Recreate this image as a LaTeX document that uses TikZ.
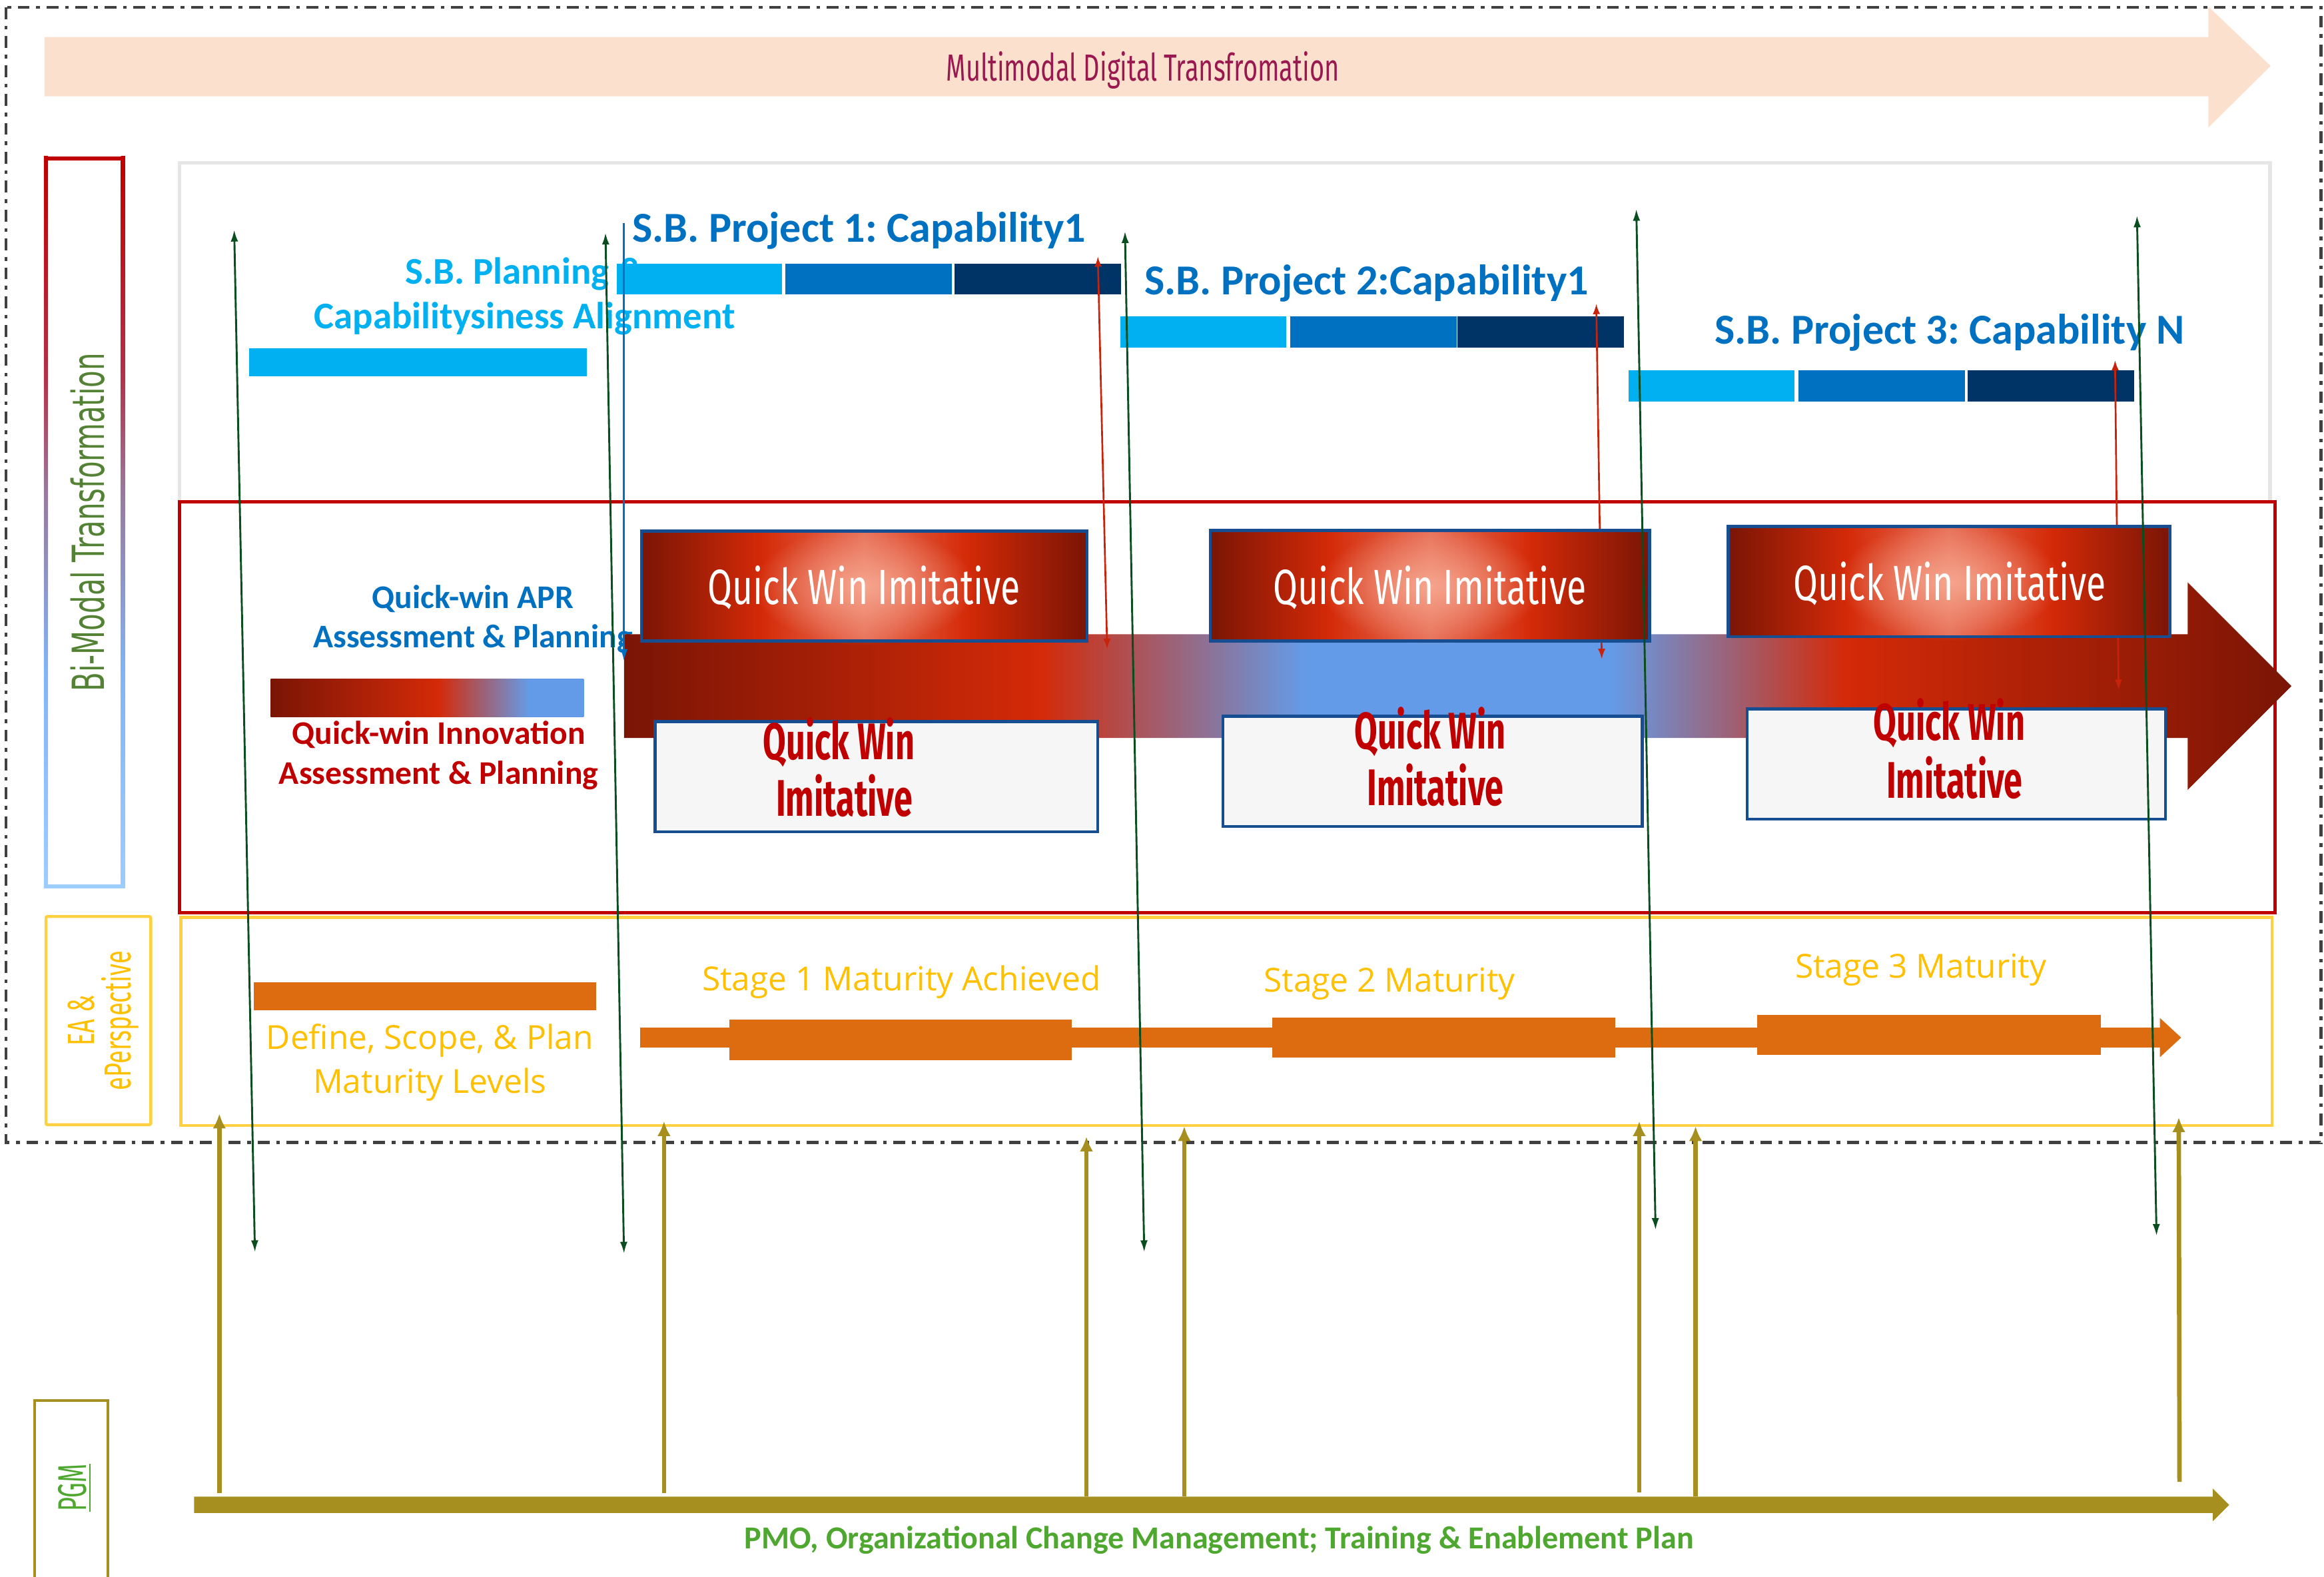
\documentclass[tikz,border=0pt]{standalone}
\usepackage{fontspec}
\setmainfont{Carlito}
\newfontfamily\firaC{Fira Sans}[FakeStretch=0.72]
\newfontfamily\firaE{Fira Sans}[FakeStretch=0.64]
\newfontfamily\firaM{Fira Sans}[FakeStretch=0.67]
\newfontfamily\firaB{Fira Sans}[FakeStretch=0.65]
\newfontfamily\firaP{Fira Sans}[FakeStretch=0.6]
\newfontfamily\opens{Open Sans}
\newfontfamily\dejaC{DejaVu Sans}[FakeStretch=0.63]
\usetikzlibrary{arrows.meta,fadings}
\frenchspacing
\definecolor{peach}{RGB}{251,225,205}
\definecolor{mtext}{RGB}{153,24,80}
\definecolor{framec}{RGB}{64,64,64}
\definecolor{lgray}{RGB}{231,230,230}
\definecolor{cred}{RGB}{192,0,0}
\definecolor{ybord}{RGB}{255,208,64}
\definecolor{ytext}{RGB}{255,192,0}
\definecolor{colOlive}{RGB}{166,143,30}
\definecolor{cyanB}{RGB}{0,176,240}
\definecolor{mblue}{RGB}{0,112,192}
\definecolor{navyB}{RGB}{0,51,102}
\definecolor{orng}{RGB}{221,107,16}
\definecolor{pgreen}{RGB}{78,167,46}
\definecolor{bmgreen}{RGB}{84,130,53}
\definecolor{dgreen}{RGB}{10,77,30}
\definecolor{rline}{RGB}{200,35,10}
\definecolor{qmaroon}{RGB}{122,21,5}
\definecolor{qred}{RGB}{212,42,8}
\definecolor{qblue}{RGB}{100,155,232}
\definecolor{qmid}{RGB}{232,112,88}
\definecolor{qsalmon}{RGB}{246,165,142}
\definecolor{qborder}{RGB}{23,77,145}
\definecolor{lfill}{RGB}{246,246,246}
\definecolor{bmB}{RGB}{157,204,255}
\definecolor{bmBb}{RGB}{128,180,244}
\definecolor{bmPa}{RGB}{143,144,192}
\definecolor{bmPb}{RGB}{154,120,160}
\definecolor{bmRb}{RGB}{180,48,72}
\definecolor{bmR}{RGB}{192,0,0}
\pgfdeclarehorizontalshading{qwbig}{100bp}{color(0bp)=(qmaroon); color(25bp)=(qmaroon); color(37.5bp)=(qred); color(45.4bp)=(qblue); color(54.6bp)=(qblue); color(61.6bp)=(qred); color(75bp)=(qmaroon); color(100bp)=(qmaroon)}
\pgfdeclarehorizontalshading{qwbox}{100bp}{color(0bp)=(qmaroon); color(25bp)=(qmaroon); color(38.5bp)=(qred); color(50bp)=(qmid); color(61.5bp)=(qred); color(75bp)=(qmaroon); color(100bp)=(qmaroon)}
\pgfdeclarehorizontalshading{qwleg}{100bp}{color(0bp)=(qmaroon); color(25bp)=(qmaroon); color(51.8bp)=(qred); color(66.3bp)=(qblue); color(75bp)=(qblue); color(100bp)=(qblue)}
\pgfdeclareverticalshading{bimodal}{100bp}{color(0bp)=(bmB); color(25bp)=(bmB); color(40bp)=(bmBb); color(47bp)=(bmPa); color(52bp)=(bmPb); color(60bp)=(bmRb); color(75bp)=(bmR); color(100bp)=(bmR)}
\tikzfading[name=qwfade, inner color=transparent!0, outer color=transparent!100]
\begin{document}
\begin{tikzpicture}[x=0.02cm,y=-0.02cm,
  every node/.style={inner sep=0pt,outer sep=0pt},
  garrow/.style={draw=dgreen,line width=0.026cm,{Latex[length=0.16cm,width=0.1cm]}-{Latex[length=0.16cm,width=0.1cm]}},
  rarrow/.style={draw=rline,line width=0.024cm,{Latex[length=0.14cm,width=0.1cm]}-{Latex[length=0.14cm,width=0.1cm]}},
  barrow/.style={draw=mblue,line width=0.024cm,-{Latex[length=0.16cm,width=0.1cm]}},
  oarrow/.style={draw=colOlive,line width=0.06cm,-{Latex[length=0.2cm,width=0.18cm]}},
  sbtxt/.style={font=\bfseries\fontsize{16.4}{19}\selectfont,text=mblue,anchor=base west},
  plantxt/.style={font=\bfseries\fontsize{14.5}{17}\selectfont,text=cyanB,anchor=base},
  qatxt/.style={font=\bfseries\fontsize{12.7}{15}\selectfont,anchor=base},
  qwtop/.style={font=\firaC\fontsize{19}{22}\selectfont,text=white,anchor=base},
  qwbot/.style={font=\firaB\bfseries\fontsize{19.8}{23}\selectfont,text=cred,anchor=base},
  stagetxt/.style={font=\opens\fontsize{12.7}{15}\selectfont,text=ytext,anchor=base},
  eatxt/.style={font=\firaE\fontsize{14.5}{17}\selectfont,text=ytext,rotate=90,anchor=base},
  qwbord/.style={draw=qborder,line width=0.04cm},
  orangebar/.style={fill=orng}
]
\useasboundingbox (0,0) rectangle (1568,1064);
\fill[white] (0,0) rectangle (1568,1064);

% outer dash-dot frame
\draw[framec,line width=0.04cm,dash pattern=on 0.16cm off 0.09cm on 0.05cm off 0.09cm] (4,5) rectangle (1566,771);

% top peach arrow
\fill[peach] (30,25) -- (1490,25) -- (1490,4.5) -- (1532,44.5) -- (1490,86) -- (1490,65) -- (30,65) -- cycle;
\node[font=\firaM\fontsize{14.5}{17}\selectfont,text=mtext,anchor=base] (mdt) at (771,54.7) {Multimodal Digital Transfromation};

% side label boxes
\shade[shading=bimodal] (29.6,105.6) rectangle (32.4,599.4);
\shade[shading=bimodal] (81.6,105.6) rectangle (84.4,599.4);
\fill[bmR] (29.6,105.6) rectangle (84.4,108.4);
\fill[bmB] (29.6,596.6) rectangle (84.4,599.4);
\node[font=\dejaC\fontsize{17}{20}\selectfont,text=bmgreen,rotate=90,anchor=base] (bm) at (70.5,352.5) {Bi-Modal Transformation};

\draw[ybord,line width=0.04cm,rounded corners=0.02cm] (31,618.5) rectangle (101.7,759);
\node[eatxt] (ea1) at (63.5,688.8) {EA \&};
\node[eatxt] (ea2) at (88.5,688.8) {ePerspective};

\draw[colOlive,line width=0.036cm] (23.4,945) rectangle (72.7,1075);
\node[font=\firaP\fontsize{15.4}{18}\selectfont,text=pgreen,rotate=90,anchor=base] (pgm) at (58,1004) {\underline{PGM}};

% main region frames
\draw[lgray,line width=0.048cm] (121,110) rectangle (1531.6,338.7);
\draw[cred,line width=0.045cm] (121,338.7) rectangle (1535,616);
\draw[ybord,line width=0.04cm] (122,619) rectangle (1533,759.5);

% S.B. planning
\node[plantxt] (pl1) at (354,191.5) {S.B. Planning \&};
\node[plantxt] (pl2) at (354,221.7) {Capabilitysiness Alignment};
\fill[cyanB] (168,235) rectangle (396,254);

% projects
\node[sbtxt] (p1) at (426.5,163.5) {S.B. Project 1: Capability1};
\fill[cyanB] (416,178) rectangle (527.5,198.5);
\fill[mblue] (530,178) rectangle (642,198.5);
\fill[navyB] (644,178) rectangle (756.5,198.5);

\node[sbtxt] (p2) at (772.3,198.8) {S.B. Project 2:Capability1};
\fill[cyanB] (755.8,213.5) rectangle (868,234.6);
\fill[mblue] (870.6,213.5) rectangle (982.8,234.6);
\fill[navyB] (983.4,213.5) rectangle (1095.7,234.6);

\node[sbtxt] (p3) at (1156.8,232.3) {S.B. Project 3: Capability N};
\fill[cyanB] (1099,250) rectangle (1210.8,271);
\fill[mblue] (1213.4,250) rectangle (1325.7,271);
\fill[navyB] (1327.5,250) rectangle (1439.8,271);

% quick-win legend
\node[qatxt,text=mblue] (qa1) at (319,410.5) {Quick-win APR};
\node[qatxt,text=mblue] (qa2) at (319,437.2) {Assessment \& Planning};
\shade[shading=qwleg] (182.6,458) rectangle (393.8,484);
\node[qatxt,text=cred] (qi1) at (296,502.3) {Quick-win Innovation};
\node[qatxt,text=cred] (qi2) at (296,529.3) {Assessment \& Planning};

% big gradient arrow
\shade[shading=qwbig] (421,428) -- (1476,428) -- (1476,393) -- (1546,463) -- (1476,533) -- (1476,498) -- (421,498) -- cycle;

% red and blue connectors
\coordinate (r1t) at (740.7,173); \coordinate (r1b) at (747,438);
\coordinate (r2t) at (1077,205); \coordinate (r2b) at (1080.7,444.8);
\coordinate (r3t) at (1427,243); \coordinate (r3b) at (1429.4,465.6);
\draw[rarrow] (r1t) -- (r1b);
\draw[rarrow] (r2t) -- (r2b);
\draw[rarrow] (r3t) -- (r3b);
\coordinate (bt) at (421,150.6); \coordinate (bb) at (421,446);
\draw[barrow] (bt) -- (bb);

% quick win top boxes
\shade[shading=qwbox] (432.7,358.5) rectangle (733.5,432.5);
\fill[qsalmon,path fading=qwfade] (583.1,395.5) ellipse [x radius=1.5cm,y radius=0.8cm];
\draw[qwbord] (432.7,358.5) rectangle (733.5,432.5);
\node[qwtop] (qt1) at (583,408) {Quick Win Imitative};

\shade[shading=qwbox] (816.6,358) rectangle (1113,432.5);
\fill[qsalmon,path fading=qwfade] (964.8,395.3) ellipse [x radius=1.5cm,y radius=0.8cm];
\draw[qwbord] (816.6,358) rectangle (1113,432.5);
\node[qwtop] (qt2) at (964.7,407.8) {Quick Win Imitative};

\shade[shading=qwbox] (1166,355.3) rectangle (1464,429.7);
\fill[qsalmon,path fading=qwfade] (1315,392.5) ellipse [x radius=1.5cm,y radius=0.8cm];
\draw[qwbord] (1166,355.3) rectangle (1464,429.7);
\node[qwtop] (qt3) at (1315.5,405) {Quick Win Imitative};

% quick win bottom boxes
\filldraw[qwbord,fill=lfill] (442,487) rectangle (740.6,561.3);
\node[qwbot] (qb1a) at (566,512.4) {Quick Win};
\node[qwbot] (qb1b) at (569.6,550.7) {Imitative};
\filldraw[qwbord,fill=lfill] (825,483.4) rectangle (1108,557.7);
\node[qwbot] (qb2a) at (964.9,505.4) {Quick Win};
\node[qwbot] (qb2b) at (968.4,543.5) {Imitative};
\filldraw[qwbord,fill=lfill] (1178.7,478.4) rectangle (1460.9,552.7);
\node[qwbot] (qb3a) at (1315.2,499.5) {Quick Win};
\node[qwbot] (qb3b) at (1318.7,538.4) {Imitative};

% EA perspective row
\fill[orangebar] (171,663) rectangle (402,681.6);
\node[stagetxt] (d1) at (290,708) {Define, Scope, \& Plan};
\node[stagetxt] (d2) at (290,737.8) {Maturity Levels};
\fill[orangebar] (432,693.3) rectangle (1457.3,706.8);
\fill[orangebar] (492,688) rectangle (723.3,715.3);
\fill[orangebar] (858.4,686.7) rectangle (1089.6,713.5);
\fill[orangebar] (1185.5,685) rectangle (1417.3,711.8);
\fill[orangebar] (1457.3,687) -- (1471.6,700.2) -- (1457.3,713.4) -- cycle;
\node[stagetxt] (s1) at (608.2,668.4) {Stage 1 Maturity Achieved};
\node[stagetxt] (s2) at (937.5,669.6) {Stage 2 Maturity};
\node[stagetxt] (s3) at (1296,660) {Stage 3 Maturity};

% PGM arrow and feeders
\fill[colOlive] (131,1010) -- (1493,1010) -- (1493,1004.5) -- (1504,1015.5) -- (1493,1026.5) -- (1493,1021) -- (131,1021) -- cycle;
\node[font=\bfseries\fontsize{12.3}{14}\selectfont,text=pgreen,anchor=base] (pmo) at (822.5,1045) {PMO, Organizational Change Management; Training \& Enablement Plan};
\coordinate (o1b) at (148,1007.6); \coordinate (o1t) at (148,751.5);
\coordinate (o2b) at (448,1007.6); \coordinate (o2t) at (448,756.6);
\coordinate (o3b) at (733,1010); \coordinate (o3t) at (733,767);
\coordinate (o4b) at (799,1010); \coordinate (o4t) at (799,760);
\coordinate (o5b) at (1106,1007); \coordinate (o5t) at (1106,756.6);
\coordinate (o6b) at (1144,1010); \coordinate (o6t) at (1144,760);
\coordinate (o7b) at (1470.5,1000); \coordinate (o7t) at (1470,754);
\foreach \i in {1,...,7} {\draw[oarrow] (o\i b) -- (o\i t);}

% dark green connectors
\coordinate (g1t) at (158,155); \coordinate (g1b) at (172,845);
\coordinate (g2t) at (408.5,157); \coordinate (g2b) at (421,846);
\coordinate (g3t) at (759,156); \coordinate (g3b) at (772,845);
\coordinate (g4t) at (1104,141); \coordinate (g4b) at (1117,830);
\coordinate (g5t) at (1441.8,145.4); \coordinate (g5b) at (1455,834);
\foreach \i in {1,...,5} {\draw[garrow] (g\i t) -- (g\i b);}
\end{tikzpicture}
\end{document}
